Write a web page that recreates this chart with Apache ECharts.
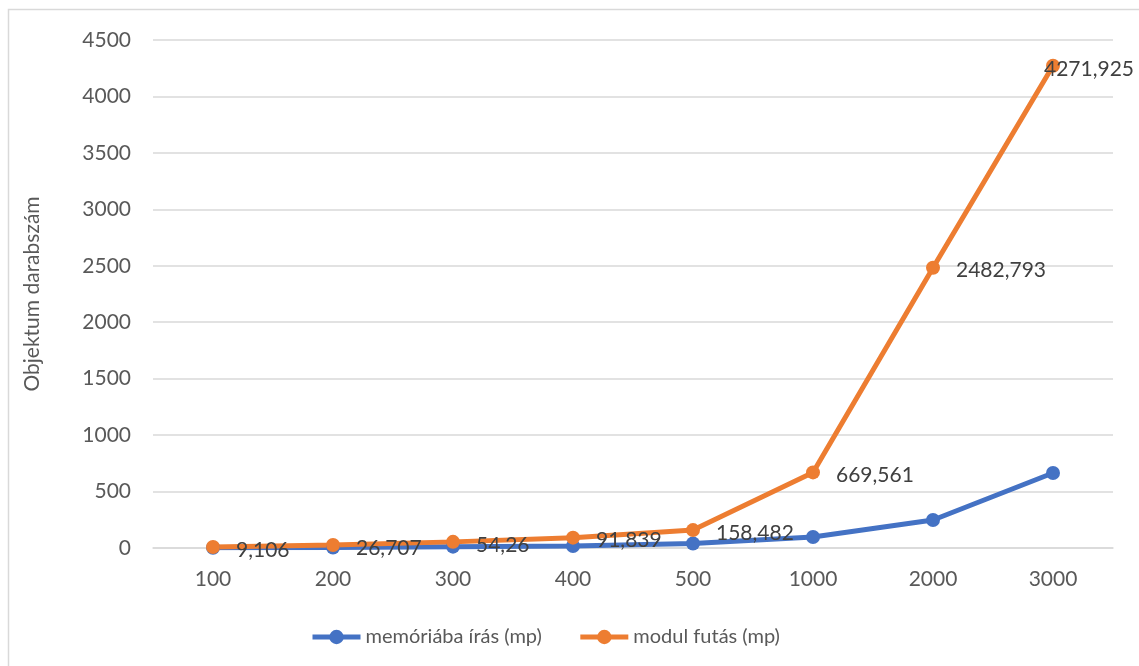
<!DOCTYPE html>
<html>
<head>
<meta charset="utf-8">
<script src="https://cdn.jsdelivr.net/npm/echarts@6/dist/echarts.min.js"></script>
<style>
  html, body { margin: 0; padding: 0; background: #fff; }
  #chart { width: 1139px; height: 666px; }
</style>
</head>
<body>
<div id="chart"></div>
<script>
// Object counts on the x axis, timings (seconds) per series
const categories = ['100', '200', '300', '400', '500', '1000', '2000', '3000'];
const memoryWrite = [2, 5, 12, 18, 40, 97, 248, 664];
const moduleRun = [9.106, 26.707, 54.26, 91.839, 158.482, 669.561, 2482.793, 4271.925];
const seriesNames = ['memóriába írás (mp)', 'modul futás (mp)'];
const yAxisTitle = 'Objektum darabszám';

const FONT = 'Lato, "Open Sans", sans-serif';
const FS = 21;
const fmt = v => String(v).replace('.', ',');

const chart = echarts.init(document.getElementById('chart'), null, { renderer: 'canvas' });

const lastIdx = moduleRun.length - 1;
const moduleData = moduleRun.map((v, i) => i === lastIdx
  ? { value: v, label: { position: 'inside', align: 'left', offset: [-9, 3] } }
  : v);

chart.setOption({
  animation: false,
  textStyle: { fontFamily: FONT },
  graphic: [{
    type: 'rect',
    shape: { x: 8.5, y: 9.5, width: 1200, height: 700 },
    style: { fill: 'none', stroke: '#D9D9D9', lineWidth: 1.5 },
    silent: true
  }],
  grid: { left: 153, right: 26, top: 40, bottom: 118 },
  legend: {
    left: 305,
    top: 622,
    itemWidth: 48,
    itemHeight: 18,
    itemGap: 36,
    lineStyle: { width: 5 },
    textStyle: { fontFamily: FONT, fontSize: 20, color: '#595959' },
    data: seriesNames
  },
  xAxis: {
    type: 'category',
    data: categories,
    boundaryGap: true,
    axisLine: { lineStyle: { color: '#D9D9D9', width: 1.5 } },
    axisTick: { show: false },
    axisLabel: { fontFamily: FONT, fontSize: FS, color: '#595959', margin: 21 }
  },
  yAxis: {
    type: 'value',
    min: 0,
    max: 4500,
    interval: 500,
    name: yAxisTitle,
    nameLocation: 'middle',
    nameRotate: 90,
    nameGap: 110,
    nameTextStyle: { fontFamily: FONT, fontSize: FS, color: '#595959' },
    axisLine: { show: false },
    axisTick: { show: false },
    axisLabel: { fontFamily: FONT, fontSize: FS, color: '#595959', margin: 22, formatter: v => String(v) },
    splitLine: { lineStyle: { color: '#D9D9D9', width: 1.5 } }
  },
  series: [
    {
      name: seriesNames[0],
      type: 'line',
      data: memoryWrite,
      color: '#4472C4',
      symbol: 'circle',
      symbolSize: 14,
      lineStyle: { width: 5, color: '#4472C4' },
      itemStyle: { color: '#4472C4' }
    },
    {
      name: seriesNames[1],
      type: 'line',
      data: moduleData,
      color: '#ED7D31',
      symbol: 'circle',
      symbolSize: 14,
      lineStyle: { width: 5, color: '#ED7D31' },
      itemStyle: { color: '#ED7D31' },
      label: {
        show: true,
        position: 'right',
        distance: 16,
        offset: [0, 3],
        fontFamily: FONT,
        fontSize: FS,
        color: '#404040',
        formatter: p => fmt(p.value)
      }
    }
  ]
});
</script>
</body>
</html>
